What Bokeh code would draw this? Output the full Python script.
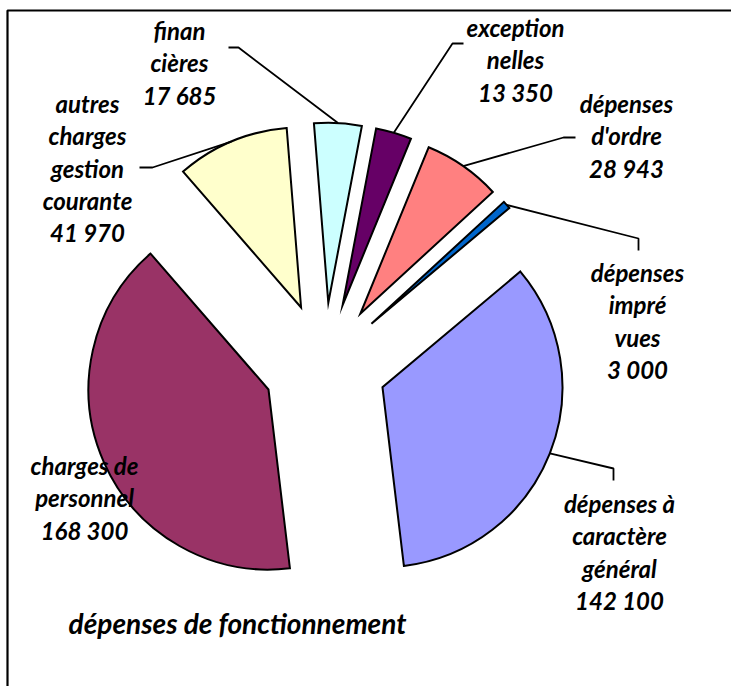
import math
from bokeh.plotting import figure
from bokeh.models import Range1d, ColumnDataSource
from bokeh.core.properties import value
from bokeh.embed import file_html
from bokeh.resources import INLINE

# ---- data ----
categories = ["dépenses à\ncaractère\ngénéral", "charges de\npersonnel",
              "autres\ncharges\ngestion\ncourante", "finan\ncières",
              "exception\nnelles", "dépenses\nd'ordre", "dépenses\nimpré\nvues"]
values = [142100, 168300, 41970, 17685, 13350, 28943, 3000]
colors = ["#9999FF", "#993366", "#FFFFCC", "#CCFFFF", "#660066", "#FF8080", "#0066CC"]
title = "dépenses de fonctionnement"

# ---- layout (image pixel coordinates) ----
W, H = 731, 686
first_angle = 50.0          # degrees clockwise from 12 o'clock
center = (324.5, 364.0)
radius = 180.0
explode = 61.8
line_gap = 32.3
label_pos = [(619, 503), (84, 465), (87, 103), (179, 30), (515, 27), (626, 103), (637, 272)]
leader_elbows = [[(613, 480), (613, 468)], None, [(139, 167), (152, 167)],
                 [(228, 47), (238, 47)], [(463, 43), (452, 43)],
                 [(575, 137), (563, 137)], [(638, 250), (638, 238)]]

FONT = "Lato"
PW, PH = 731, 686


def Y(y):
    return H - y


p = figure(width=PW, height=PH, x_range=Range1d(0, PW), y_range=Range1d(H - PH, H),
           output_backend="svg", toolbar_location=None, x_axis_type=None, y_axis_type=None,
           min_border=0, min_border_left=0, min_border_right=0, min_border_top=0,
           min_border_bottom=0)
p.outline_line_color = None
p.xgrid.visible = False
p.ygrid.visible = False
p.background_fill_color = "white"

# border (top and left visible, extends beyond the window)
p.line([7, 7, 760], [Y(720), Y(10), Y(10)], line_color="black", line_width=2.2)

total = float(sum(values))
xs, ys, sa, ea, mids = [], [], [], [], []
acc = first_angle
for v in values:
    span = v / total * 360.0
    t1, t2 = acc, acc + span
    mid = (t1 + t2) / 2.0
    m = math.radians(mid)
    xs.append(center[0] + explode * math.sin(m))
    ys.append(Y(center[1]) + explode * math.cos(m))
    sa.append(math.radians(90.0 - t2))
    ea.append(math.radians(90.0 - t1))
    mids.append(mid)
    acc = t2

src = ColumnDataSource(dict(x=xs, y=ys, start=sa, end=ea, color=colors))
p.wedge(x="x", y="y", radius=radius, start_angle="start", end_angle="end",
        direction="anticlock", fill_color="color", line_color="black",
        line_width=2, line_join="miter", source=src)

# leader lines
for i, el in enumerate(leader_elbows):
    if el is None:
        continue
    m = math.radians(mids[i])
    ex = xs[i] + radius * math.sin(m)
    ey = ys[i] + radius * math.cos(m)
    lx = [pt[0] for pt in el] + [ex]
    ly = [Y(pt[1]) for pt in el] + [ey]
    p.line(lx, ly, line_color="black", line_width=1.8)

# labels
tx, ty, tt = [], [], []
for i, cat in enumerate(categories):
    lines = cat.split("\n") + [f"{values[i]:,}".replace(",", " ")]
    x0, y0 = label_pos[i]
    for k, ln in enumerate(lines):
        tx.append(x0)
        ty.append(Y(y0 + k * line_gap))
        tt.append(ln)

p.text(x=tx, y=ty, text=tt, text_font=value(FONT), text_font_style="bold italic",
       text_font_size="24px", text_align="center", text_baseline="middle",
       text_color="black")

p.text(x=[237], y=[Y(622)], text=[title], text_font=value(FONT),
       text_font_style="bold italic", text_font_size="28px", text_align="center",
       text_baseline="middle", text_color="black")

open("out.html", "w").write(file_html(p, INLINE))
